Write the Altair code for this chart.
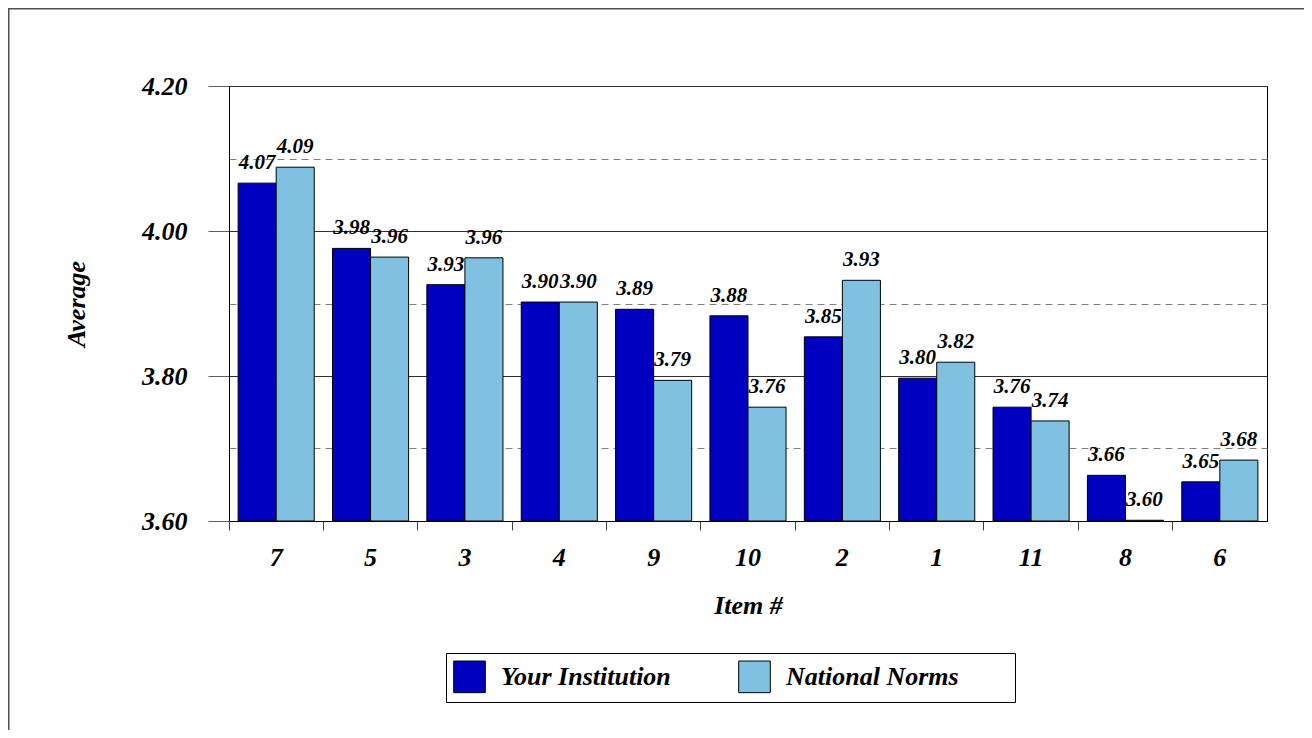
import altair as alt
import pandas as pd

items = ["7", "5", "3", "4", "9", "10", "2", "1", "11", "8", "6"]
your_institution = [4.066, 3.976, 3.926, 3.902, 3.892, 3.883, 3.854, 3.797, 3.757, 3.663, 3.654]
national_norms = [4.088, 3.964, 3.963, 3.902, 3.794, 3.757, 3.932, 3.819, 3.738, 3.601, 3.684]
series = ["Your Institution", "National Norms"]
colors = ["#0000C0", "#80C0E0"]
y_ticks = [3.6, 3.7, 3.8, 3.9, 4.0, 4.1, 4.2]
baseline_value = 3.6

rows = []
for i, it in enumerate(items):
    rows.append({"item": it, "series": series[0], "value": your_institution[i], "base": baseline_value})
    rows.append({"item": it, "series": series[1], "value": national_norms[i], "base": baseline_value})
df = pd.DataFrame(rows)

FONT = "Liberation Serif"
W, H = 1038, 435
PAD_L, PAD_T, PAD_R, PAD_B = 221, 78, 37, 209

odd = "round(datum.value * 10) % 2 == 1"

x_enc = alt.X(
    "item:N",
    sort=items,
    scale=alt.Scale(paddingInner=0, paddingOuter=0),
    axis=alt.Axis(
        title="Item #",
        bandPosition=0,
        labelAngle=0,
        labelFont=FONT, labelFontSize=26, labelFontWeight="bold", labelFontStyle="italic",
        labelColor="black", labelPadding=14,
        titleFont=FONT, titleFontSize=26, titleFontWeight="bold", titleFontStyle="italic",
        titleColor="black", titlePadding=22,
        tickSize=9, tickColor="#404040", domainColor="black", grid=False,
    ),
)
xo_enc = alt.XOffset("series:N", sort=series, scale=alt.Scale(paddingInner=0, paddingOuter=0.24))
y_enc = alt.Y(
    "value:Q",
    scale=alt.Scale(domain=[3.6, 4.2], zero=False, nice=False),
    axis=alt.Axis(
        title="Average",
        values=y_ticks,
        labelExpr="round(datum.value * 10) % 2 == 0 ? format(datum.value, '.2f') : ''",
        labelFont=FONT, labelFontSize=26, labelFontWeight="bold", labelFontStyle="italic",
        labelColor="black", labelPadding=21,
        titleFont=FONT, titleFontSize=26, titleFontWeight="bold", titleFontStyle="italic",
        titleColor="black", titlePadding=52,
        tickSize=21, tickColor="#606060",
        tickOpacity=alt.condition(odd, alt.value(0), alt.value(1)),
        grid=True,
        gridColor=alt.condition(odd, alt.value("#808080"), alt.value("#303030")),
        gridDash=alt.condition(odd, alt.value([7, 5]), alt.value([])),
        gridWidth=1,
        domainColor="black",
    ),
)

color_enc = alt.Color(
    "series:N",
    sort=series,
    scale=alt.Scale(domain=series, range=colors),
    legend=alt.Legend(
        orient="none", legendX=217, legendY=567, direction="horizontal",
        title="\u00a0", titleOrient="right", titlePadding=49,
        titleFont=FONT, titleFontSize=26,
        symbolType="square", symbolSize=1000, symbolStrokeColor="black", symbolStrokeWidth=1,
        symbolOpacity=1,
        labelFont=FONT, labelFontSize=26, labelFontWeight="bold", labelFontStyle="italic",
        labelColor="black", labelOffset=15, labelLimit=400,
        columnPadding=65, padding=7, strokeColor="black", fillColor="white",
    ),
)

bars = alt.Chart(df).mark_bar(stroke="black", strokeWidth=1).encode(
    x=x_enc, xOffset=xo_enc, y=y_enc, y2=alt.Y2("base:Q"), color=color_enc
)

labels = alt.Chart(df).mark_text(
    font=FONT, fontSize=21, fontWeight="bold", fontStyle="italic",
    baseline="alphabetic", dy=-14, color="black",
).encode(
    x=alt.X("item:N", sort=items), xOffset=alt.XOffset("series:N", sort=series),
    y=alt.Y("value:Q"), text=alt.Text("value:Q", format=".2f"),
)

frame = alt.Chart(pd.DataFrame({"f": [0]})).mark_rect(
    fillOpacity=0, stroke="#505050", strokeWidth=1.5
).encode(
    x=alt.value(-PAD_L + 0.75), x2=alt.value(W + PAD_R + 20),
    y=alt.value(-PAD_T + 0.75), y2=alt.value(H + PAD_B + 20),
)

chart = alt.layer(bars, labels, frame).properties(
    width=W, height=H, autosize="none",
    padding={"left": PAD_L, "top": PAD_T, "right": PAD_R, "bottom": PAD_B},
    background="white",
).configure_view(stroke="black", strokeWidth=1)

chart.save("out.html", embed_options={"renderer": "svg", "actions": False})
